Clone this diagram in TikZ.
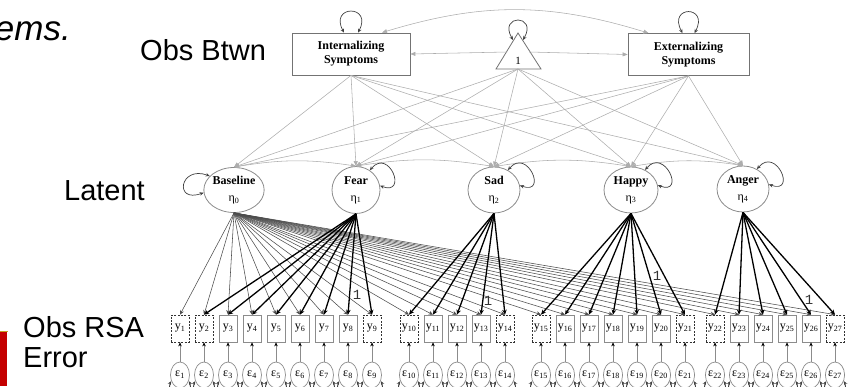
\documentclass[tikz,border=0pt]{standalone}
\usepackage{fontspec}
\setmainfont{Liberation Serif}
\newfontfamily\slidefont{Liberation Sans}
\newfontfamily\fixfont{Liberation Mono}
\usetikzlibrary{arrows.meta,shapes.geometric}

\definecolor{barred}{RGB}{196,0,0}
\definecolor{bargold}{RGB}{196,160,40}

\begin{document}
\begin{tikzpicture}[x=1pt,y=1pt,
  slidetext/.style={font=\slidefont\fontsize{29}{30}\selectfont, inner sep=0pt},
  symbox/.style={draw=black!55, line width=0.8pt, fill=white, minimum width=118pt, minimum height=42pt, inner sep=0pt, align=center, font=\bfseries\fontsize{12}{14}\selectfont},
  latnode/.style={ellipse, draw=black!45, line width=0.8pt, fill=white, minimum width=52pt, minimum height=46pt, inner sep=0pt, align=center, font=\fontsize{12}{17}\selectfont},
  obsbox/.style={rectangle, draw=black!45, line width=0.7pt, fill=white, minimum width=18pt, minimum height=27pt, inner sep=0pt, font=\fontsize{12}{12}\selectfont},
  obsdash/.style={obsbox, draw=black!80, dash pattern=on 2pt off 1.4pt},
  errnode/.style={ellipse, draw=black!45, line width=0.7pt, fill=white, minimum width=19pt, minimum height=26pt, inner sep=0pt, font=\fontsize{12}{12}\selectfont},
  meanpath/.style={draw=black!32, line width=0.55pt, -{Triangle[length=5pt,width=4pt]}},
  covpath/.style={draw=black!32, line width=0.55pt, {Triangle[length=5pt,width=4pt]}-{Triangle[length=5pt,width=4pt]}},
  selfloop/.style={draw=black!75, line width=0.7pt, {Stealth[length=4pt,width=3.5pt]}-{Stealth[length=4pt,width=3.5pt]}},
  basepath/.style={draw=black!70, line width=0.55pt, -{Stealth[length=4.5pt,width=4pt]}},
  loadpath/.style={draw=black, line width=1.3pt, -{Stealth[length=5pt,width=4.5pt]}},
  errpath/.style={draw=black!45, line width=0.6pt, -{Stealth[length=4pt,width=3.5pt,color=black]}},
  onelabel/.style={font=\fixfont\fontsize{14}{14}\selectfont, text=black!80, inner sep=0pt},
]
\useasboundingbox (0,0) rectangle (848,-386);
\clip (0,0) rectangle (848,-386);

% slide texts
\node[font=\slidefont\itshape\fontsize{35}{36}\selectfont, inner sep=0pt, anchor=base east] (title) at (71,-40) {ems.};
\node[slidetext, anchor=base west] (lblbtwn) at (140,-60) {Obs Btwn};
\node[slidetext, anchor=base east] (lbllat) at (145,-200) {Latent};
\node[slidetext, anchor=base west] (lblrsa) at (23,-337) {Obs RSA};
\node[slidetext, anchor=base west] (lblerr) at (23,-367) {Error};
\fill[barred] (0,-331) rectangle (7,-386);
\draw[bargold, line width=1.2pt] (0,-331.6) -- (7.5,-331.6);

% between-person observed variables and the constant
\node[symbox] (int) at (351,-54) {Internalizing\\Symptoms};
\node[symbox, minimum width=121pt] (ext) at (688.5,-54.5) {Externalizing\\Symptoms};
\coordinate (triTop) at (518,-33);
\coordinate (triBL) at (496,-69);
\coordinate (triBR) at (541,-69);
\draw[draw=black!55, line width=0.8pt, fill=white] (triTop) -- (triBL) -- (triBR) -- cycle;
\node[font=\fontsize{11}{11}\selectfont, inner sep=0pt] (triOne) at (518,-61) {1};
\coordinate (triBase) at (518,-69);
\coordinate (triWest) at (507,-52);
\coordinate (triEast) at (529,-52);
\coordinate (triLoopW) at (513,-40);
\coordinate (triLoopE) at (523,-40);

% latent factors
\node[latnode, minimum width=54pt, minimum height=45pt] (lat0) at (234,-190) {\textbf{Baseline}\\η\textsubscript{0}};
\node[latnode, minimum width=48pt, minimum height=47pt] (lat1) at (356,-190) {\textbf{Fear}\\η\textsubscript{1}};
\node[latnode] (lat2) at (494,-190) {\textbf{Sad}\\η\textsubscript{2}};
\node[latnode, minimum width=54pt] (lat3) at (631,-190) {\textbf{Happy}\\η\textsubscript{3}};
\node[latnode] (lat4) at (743,-189) {\textbf{Anger}\\η\textsubscript{4}};

% observed RSA indicators and their errors
\foreach \i/\x in {1/180,2/204,9/372,10/409,14/505,15/541,21/685,22/715,27/835}
  \node[obsdash] (y\i) at (\x,-328.5) {y\textsubscript{\i}};
\foreach \i/\x in {3/228,4/252,5/276,6/300,7/324,8/348,11/433,12/457,13/481,16/565,17/589,18/613,19/637,20/661,23/739,24/763,25/787,26/811}
  \node[obsbox] (y\i) at (\x,-328.5) {y\textsubscript{\i}};
\foreach \i/\x in {1/180,2/204,3/228,4/252,5/276,6/300,7/324,8/348,9/372,10/409,11/433,12/457,13/481,14/505,15/541,16/565,17/589,18/613,19/637,20/661,21/685,22/715,23/739,24/763,25/787,26/811,27/835}
  \node[errnode] (e\i) at (\x,-375) {ε\textsubscript{\i}};

% regressions of the factors on the between-person variables
\foreach \s in {int.south, triBase, ext.south}
  \foreach \l in {0,...,4}
    \draw[meanpath] (\s) -- (lat\l.north);
\draw[meanpath] (triWest) -- (int.east);
\draw[meanpath] (triEast) -- (ext.west);
\draw[covpath] ([xshift=31pt]int.north) to[bend left=17] ([xshift=-40pt]ext.north);
\foreach \a/\b in {0/1,1/2,2/3,3/4}
  \draw[covpath] (lat\a.north) to[bend left=9] (lat\b.north);

% variances
\draw[selfloop] ([xshift=-7pt]int.north) .. controls +(-15,28) and +(15,28) .. ([xshift=7pt]int.north);
\draw[selfloop] ([xshift=-6pt]ext.north) .. controls +(-15,28) and +(15,28) .. ([xshift=6pt]ext.north);
\draw[selfloop] (triLoopW) .. controls (498,-14) and (538,-14) .. (triLoopE);
\draw[selfloop] (lat0.150) .. controls +(160:32) and +(200:32) .. (lat0.185);
\foreach \l in {1,...,4}
  \draw[selfloop] (lat\l.55) .. controls +(50:30) and +(-20:30) .. (lat\l.10);

% factor loadings
\foreach \i in {1,...,27}
  \draw[basepath] (lat0.south) -- (y\i.north);
\foreach \i in {2,...,9}
  \draw[loadpath] (lat1.south) -- (y\i.north);
\foreach \i in {10,...,14}
  \draw[loadpath] (lat2.south) -- (y\i.north);
\foreach \i in {15,...,21}
  \draw[loadpath] (lat3.south) -- (y\i.north);
\foreach \i in {22,...,27}
  \draw[loadpath] (lat4.south) -- (y\i.north);
\node[onelabel] (oneFear) at (357,-295) {1};
\node[onelabel] (oneSad) at (488,-301) {1};
\node[onelabel] (oneHappy) at (657,-276) {1};
\node[onelabel] (oneAnger) at (809,-300) {1};

% residuals
\foreach \i in {1,...,27} {
  \draw[errpath] (e\i.north) -- (y\i.south);
  \draw[selfloop] (e\i.215) .. controls +(240:14) and +(300:14) .. (e\i.325);
}
\end{tikzpicture}
\end{document}
